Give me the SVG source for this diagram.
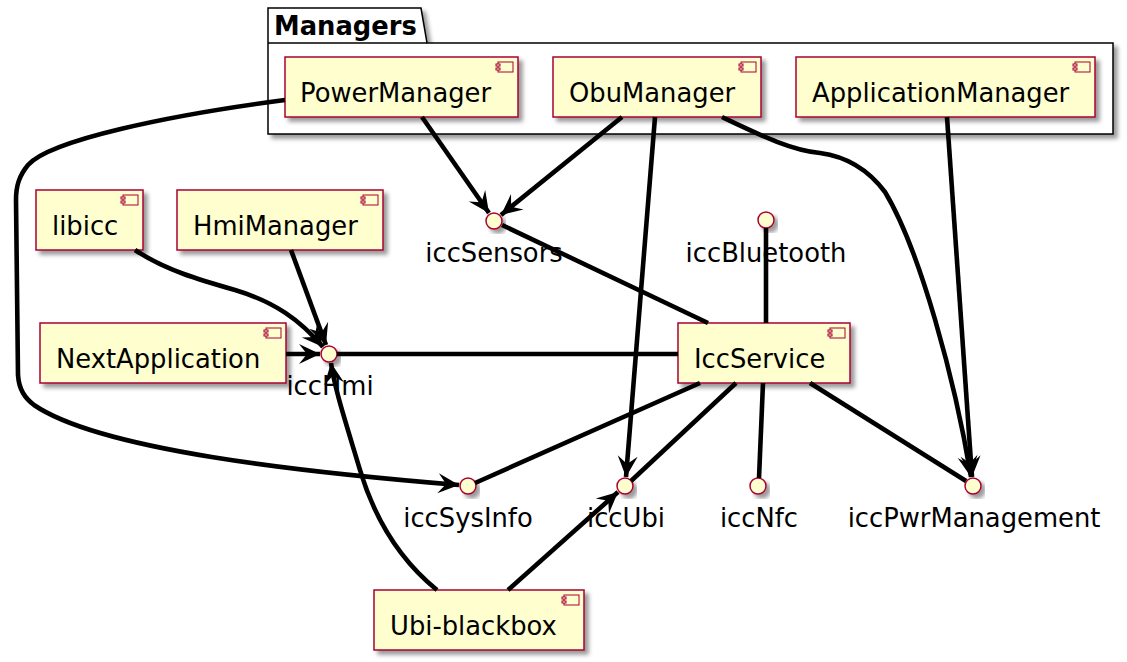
<svg xmlns="http://www.w3.org/2000/svg" xmlns:xlink="http://www.w3.org/1999/xlink" width="1127" height="662" viewBox="0 0 1127 662">
<style>
.comp{fill:#FEFECE;stroke:#A80036;stroke-width:1.5;filter:url(#sh)}
.ico{fill:#FEFECE;stroke:#A80036;stroke-width:1}
.itf{fill:#FEFECE;stroke:#A80036;stroke-width:1.5;filter:url(#sh)}
.t{font-family:"DejaVu Sans","Liberation Sans",sans-serif;font-size:25.8px;fill:#000}
.tl{font-family:"DejaVu Sans","Liberation Sans",sans-serif;font-size:25.8px;fill:#000;text-anchor:middle}
.pk{fill:#FFFFFF;stroke:#000;stroke-width:1.5;filter:url(#sh)}
.pt{font-family:"DejaVu Sans","Liberation Sans",sans-serif;font-size:25.8px;font-weight:bold;fill:#000}
.e{fill:none;stroke:#000;stroke-width:4.6}
.a{marker-end:url(#arr)}
</style>
<defs>
<filter id="sh" x="-10%" y="-10%" width="130%" height="140%">
<feGaussianBlur in="SourceAlpha" stdDeviation="2" result="b"/>
<feColorMatrix in="b" type="matrix" values="0 0 0 0 0  0 0 0 0 0  0 0 0 0 0  0 0 0 0.4 0" result="c"/>
<feOffset in="c" dx="4" dy="4" result="o"/>
<feBlend in="SourceGraphic" in2="o" mode="normal"/>
</filter>
<g id="ic">
<rect class="ico" x="-20" y="5" width="15" height="10"/>
<rect class="ico" x="-22" y="7" width="4" height="2"/>
<rect class="ico" x="-22" y="11" width="4" height="2"/>
</g>
<marker id="arr" viewBox="-23 -12 25 24" refX="0" refY="0" markerWidth="25" markerHeight="24" markerUnits="userSpaceOnUse" orient="auto">
<path d="M0,0 L-21,-10 L-13,0 L-21,10 Z" fill="#000"/>
</marker>
</defs>
<rect width="1127" height="662" fill="#FFFFFF"/>

<g id="Managers">
<path class="pk" d="M268,8 L421,8 L427,43 L1113,43 L1113,134 L268,134 Z"/>
<line x1="268" y1="43" x2="427" y2="43" stroke="#000" stroke-width="1.5"/>
<text class="pt" x="274" y="35">Managers</text>
</g>

<g id="PowerManager">
<rect class="comp" x="285" y="57" width="233" height="60"/>
<use href="#ic" x="518" y="57"/>
<text class="t" x="300" y="102">PowerManager</text>
</g>
<g id="ObuManager">
<rect class="comp" x="553" y="57" width="208" height="60"/>
<use href="#ic" x="761" y="57"/>
<text class="t" x="569" y="102">ObuManager</text>
</g>
<g id="ApplicationManager">
<rect class="comp" x="796" y="57" width="299" height="60"/>
<use href="#ic" x="1095" y="57"/>
<text class="t" x="812" y="102">ApplicationManager</text>
</g>
<g id="libicc">
<rect class="comp" x="36" y="190" width="107" height="60"/>
<use href="#ic" x="143" y="190"/>
<text class="t" x="52" y="235">libicc</text>
</g>
<g id="HmiManager">
<rect class="comp" x="177" y="190" width="206" height="60"/>
<use href="#ic" x="383" y="190"/>
<text class="t" x="193" y="235">HmiManager</text>
</g>
<g id="NextApplication">
<rect class="comp" x="40" y="323" width="246" height="60"/>
<use href="#ic" x="286" y="323"/>
<text class="t" x="56" y="368">NextApplication</text>
</g>
<g id="IccService">
<rect class="comp" x="678" y="323" width="172" height="60"/>
<use href="#ic" x="850" y="323"/>
<text class="t" x="694" y="368">IccService</text>
</g>
<g id="Ubi-blackbox">
<rect class="comp" x="374" y="590" width="210" height="60"/>
<use href="#ic" x="584" y="590"/>
<text class="t" x="390" y="635">Ubi-blackbox</text>
</g>

<g id="iccSensors">
<circle class="itf" cx="494" cy="221" r="8"/>
<text class="tl" x="494" y="262">iccSensors</text>
</g>
<g id="iccBluetooth">
<circle class="itf" cx="766" cy="220" r="8"/>
<text class="tl" x="766" y="262">iccBluetooth</text>
</g>
<g id="iccHmi">
<circle class="itf" cx="329" cy="354" r="8"/>
<text class="tl" x="330" y="395">iccHmi</text>
</g>
<g id="iccSysInfo">
<circle class="itf" cx="468" cy="486" r="8"/>
<text class="tl" x="468" y="527">iccSysInfo</text>
</g>
<g id="iccUbi">
<circle class="itf" cx="625" cy="486" r="8"/>
<text class="tl" x="626" y="527">iccUbi</text>
</g>
<g id="iccNfc">
<circle class="itf" cx="758" cy="486" r="8"/>
<text class="tl" x="759" y="527">iccNfc</text>
</g>
<g id="iccPwrManagement">
<circle class="itf" cx="973" cy="486" r="8"/>
<text class="tl" x="974" y="527">iccPwrManagement</text>
</g>

<g id="connectors">
<path class="e a" d="M285,100 C170,115 50,140 28,165 C19,176 16,186 16,200 L18,375 C19,390 25,398 34,405 C100,450 300,472 459,485"/>
<path class="e a" d="M422,117 L489,213"/>
<path class="e a" d="M622,117 L501,215"/>
<path class="e a" d="M655,117 L626,477"/>
<path class="e a" d="M722,117 C760,135 790,150 820,153 C850,157 870,172 885,192 C920,250 955,380 971,477"/>
<path class="e a" d="M947,117 L972,477"/>
<path class="e a" d="M135,250 C165,270 200,280 235,290 C275,302 300,320 323,347"/>
<path class="e a" d="M291,250 L326,345"/>
<path class="e a" d="M286,354 L320,354"/>
<path class="e" d="M337,354 L678,354"/>
<path class="e a" d="M437,590 C400,560 375,520 360,470 C345,420 335,390 331,363"/>
<path class="e a" d="M508,590 L618,492"/>
<path class="e" d="M502,225 L708,323"/>
<path class="e" d="M766,228 L766,323"/>
<path class="e" d="M700,383 L475,483"/>
<path class="e" d="M736,383 L631,481"/>
<path class="e" d="M763,383 L759,478"/>
<path class="e" d="M810,383 L966,481"/>
</g>
</svg>
